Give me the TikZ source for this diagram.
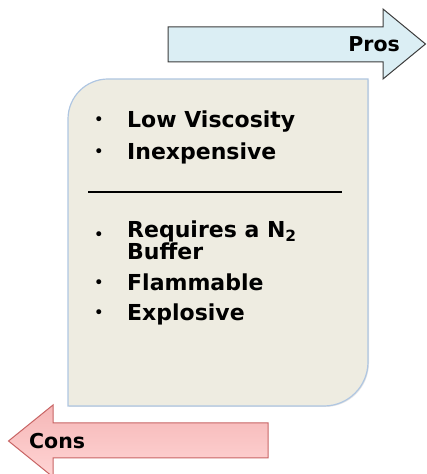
\documentclass[tikz,border=0pt]{standalone}
\usepackage{fontspec}
\setmainfont{DejaVu Sans}
\usepackage{tikz}
\usetikzlibrary{shadows}
\definecolor{prosfill}{RGB}{219,238,244}
\definecolor{prosline}{RGB}{60,60,60}
\definecolor{boxfill}{RGB}{238,236,225}
\definecolor{boxline}{RGB}{175,198,226}
\definecolor{constop}{RGB}{245,183,183}
\definecolor{consbot}{RGB}{255,212,212}
\definecolor{consline}{RGB}{200,100,100}

\begin{document}
\begin{tikzpicture}[x=1pt,y=1pt,
        item/.style={anchor=base west,inner sep=0pt,align=left,font=\fontsize{22}{17}\selectfont\bfseries},
        dot/.style={anchor=base,inner sep=0pt,font=\fontsize{17}{17}\selectfont},
        tag/.style={inner sep=0pt,font=\fontsize{20.5}{20.5}\selectfont\bfseries}]
        \useasboundingbox (0,0) rectangle (427,474);
        % the box
        \draw[fill=boxfill,draw=boxline,line width=1.2pt,drop shadow={opacity=0.2,shadow xshift=1pt,shadow yshift=-1pt}]
            (68,68) -- (68,355) arc[start angle=180,end angle=90,radius=40]
            -- (368,395) -- (368,112) arc[start angle=0,end angle=-90,radius=44] -- cycle;
        % the arrows
        \draw[fill=prosfill,draw=prosline,line width=1pt,line join=miter]
            (168,412) -- (168,447) -- (383,447) -- (383,465) -- (425.5,430) -- (383,395) -- (383,412) -- cycle;
        \draw[top color=constop,bottom color=consbot,draw=consline,line width=1pt,line join=miter]
            (268,51) -- (53,51) -- (53,69) -- (8.5,33) -- (53,-3) -- (53,16) -- (268,16) -- cycle;
        \node[tag,anchor=east] (pros) at (400,430) {Pros};
        \node[tag,anchor=west] (cons) at (29,33) {Cons};
        % the lists
        \node[dot] (b1) at (99,348) {\textbullet};
        \node[item] (low) at (127,346) {Low Viscosity};
        \node[dot] (b2) at (99,316) {\textbullet};
        \node[item] (cheap) at (127,314) {Inexpensive};
        \node[dot] (b3) at (99,233) {\textbullet};
        \node[item] (needs) at (127,214) {Requires a N\textsubscript{2}\\Buffer};
        \node[dot] (b4) at (99,185) {\textbullet};
        \node[item] (fire) at (127,183) {Flammable};
        \node[dot] (b5) at (99,155) {\textbullet};
        \node[item] (boom) at (127,153) {Explosive};
        \coordinate (ruleL) at (88,282);
        \coordinate (ruleR) at (342,282);
        \draw[line width=2pt] (ruleL) -- (ruleR);
\end{tikzpicture}
\end{document}
